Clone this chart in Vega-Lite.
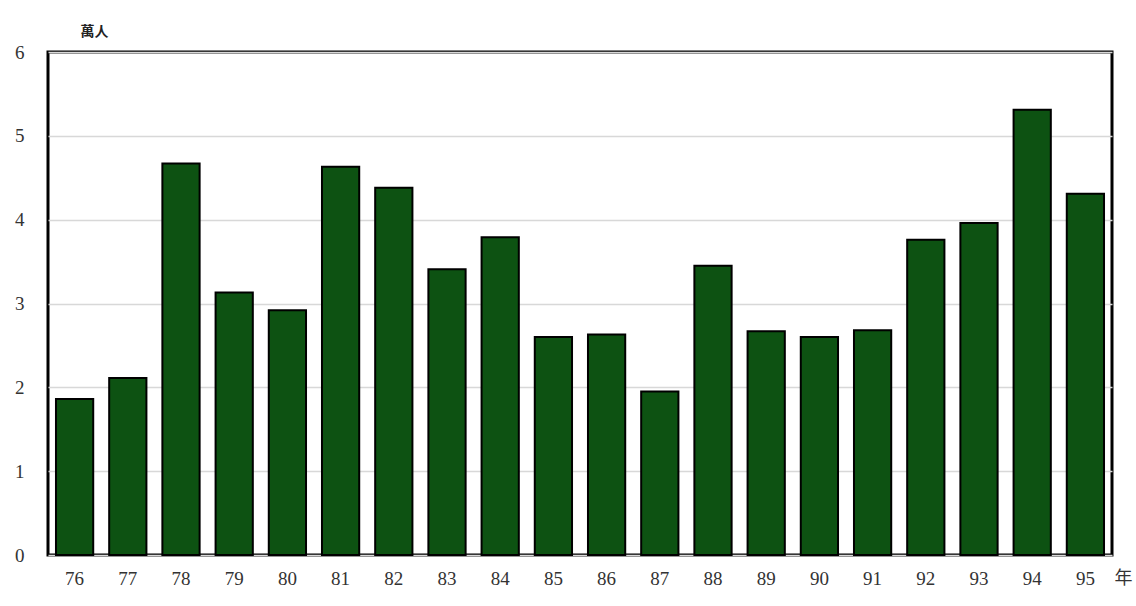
{
  "$schema": "https://vega.github.io/schema/vega-lite/v6.json",
  "width": 1064,
  "height": 503,
  "autosize": "none",
  "padding": {"left": 48, "top": 52, "right": 24, "bottom": 51},
  "background": "white",
  "config": {
    "view": {"stroke": "black", "strokeWidth": 3},
    "font": "Liberation Serif"
  },
  "data": {
    "values": [
      {"year": "76", "value": 1.86},
      {"year": "77", "value": 2.11},
      {"year": "78", "value": 4.67},
      {"year": "79", "value": 3.13},
      {"year": "80", "value": 2.92},
      {"year": "81", "value": 4.63},
      {"year": "82", "value": 4.38},
      {"year": "83", "value": 3.41},
      {"year": "84", "value": 3.79},
      {"year": "85", "value": 2.60},
      {"year": "86", "value": 2.63},
      {"year": "87", "value": 1.95},
      {"year": "88", "value": 3.45},
      {"year": "89", "value": 2.67},
      {"year": "90", "value": 2.60},
      {"year": "91", "value": 2.68},
      {"year": "92", "value": 3.76},
      {"year": "93", "value": 3.96},
      {"year": "94", "value": 5.31},
      {"year": "95", "value": 4.31}
    ]
  },
  "mark": {"type": "bar", "color": "#0d5212", "stroke": "black", "strokeWidth": 2},
  "encoding": {
    "x": {
      "field": "year",
      "type": "ordinal",
      "scale": {"paddingInner": 0.3, "paddingOuter": 0.15},
      "axis": {
        "title": "年",
        "titleFont": "Noto Sans CJK TC",
        "titleFontSize": 18,
        "titleFontWeight": "normal",
        "titleColor": "#333",
        "titleAlign": "left",
        "titleBaseline": "middle",
        "titleX": 1066,
        "titleY": 23,
        "labelAngle": 0,
        "labelFontSize": 19,
        "labelColor": "#333",
        "labelPadding": 14,
        "ticks": false,
        "domain": false
      }
    },
    "y": {
      "field": "value",
      "type": "quantitative",
      "scale": {"domain": [0, 6]},
      "axis": {
        "title": "萬人",
        "titleFont": "Noto Sans CJK TC",
        "titleFontSize": 14,
        "titleFontWeight": "bold",
        "titleColor": "#222",
        "titleAngle": 0,
        "titleAlign": "left",
        "titleX": 32,
        "titleY": -14,
        "values": [0, 1, 2, 3, 4, 5, 6],
        "labelFontSize": 19,
        "labelColor": "#333",
        "labelPadding": 24,
        "ticks": false,
        "domain": false,
        "gridColor": "#d8d8d8",
        "gridWidth": 1.5
      }
    }
  }
}
